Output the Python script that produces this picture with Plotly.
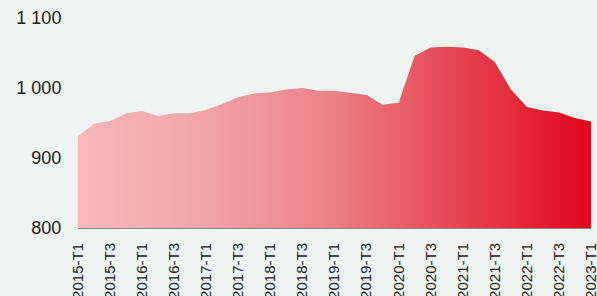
import plotly.graph_objects as go

quarters = [f"{y}-T{q}" for y in range(2015, 2023) for q in range(1, 5)] + ["2023-T1"]
values = [931, 949, 953, 964, 967, 960, 964, 964, 969, 977, 987, 992,
          994, 998, 1000, 996, 996, 993, 990, 976, 979, 1046, 1058, 1059,
          1058, 1054, 1037, 998, 973, 968, 965, 957, 952]
tick_labels = quarters[::2]
y_ticks = [800, 900, 1000, 1100]
y_tick_text = ["800", "900", "1 000", "1 100"]

fig = go.Figure()
fig.add_trace(go.Scatter(
    x=quarters, y=values, mode="lines", line=dict(width=0),
    fill="tozeroy",
    fillgradient=dict(type="horizontal", colorscale=[
        [0.0, "#f7b8be"], [0.24, "#f2a5ab"], [0.49, "#ec8289"],
        [0.745, "#e5434f"], [1.0, "#e1081c"]]),
    hoverinfo="x+y", showlegend=False,
))

fig.update_layout(
    width=597, height=296,
    margin=dict(l=78, r=6, t=18, b=68),
    paper_bgcolor="#eff3f2", plot_bgcolor="#eff3f2",
    font=dict(family="Liberation Sans, Arial, sans-serif", color="#222222"),
    xaxis=dict(type="category", categoryorder="array", categoryarray=quarters,
               range=[0, len(quarters) - 1], automargin=False,
               tickmode="array", tickvals=tick_labels, ticktext=tick_labels,
               tickangle=-90, tickfont=dict(size=15), showgrid=False,
               showline=True, linecolor="#8a8a8a", linewidth=1,
               ticks="outside", ticklen=8, tickcolor="rgba(0,0,0,0)", zeroline=False),
    yaxis=dict(range=[800, 1100], tickmode="array", tickvals=y_ticks, ticktext=y_tick_text,
               automargin=False,
               tickfont=dict(size=18), showgrid=False, zeroline=False, showline=False,
               ticks="outside", ticklen=12, tickcolor="rgba(0,0,0,0)"),
)

fig.write_html(
    "out.html",
    config={"displayModeBar": False},
    post_script="document.body.style.margin='0';document.body.style.padding='0';"
                "document.body.style.background='#eff3f2';document.body.style.overflow='hidden';",
)
